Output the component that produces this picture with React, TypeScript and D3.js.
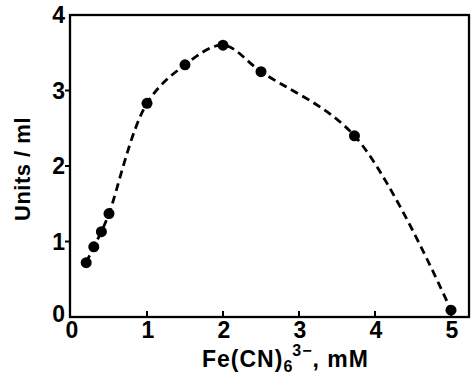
import { useEffect, useRef } from "react";
import * as d3 from "d3";

// Fe(CN)6 3- concentration (mM) vs activity (units/ml)
const concMM = [0.2, 0.3, 0.4, 0.5, 1.0, 1.5, 2.0, 2.5, 3.73, 5.0];
const unitsPerMl = [0.72, 0.93, 1.13, 1.37, 2.83, 3.34, 3.6, 3.25, 2.4, 0.09];
const xTicks = [0, 1, 2, 3, 4, 5];
const yTicks = [0, 1, 2, 3, 4];

const W = 473;
const H = 376;

const App = () => {
  const svgRef = useRef<SVGSVGElement | null>(null);

  useEffect(() => {
    const svg = d3.select(svgRef.current);
    svg.selectAll("*").remove();

    const font = "'Liberation Sans', Arial, sans-serif";
    const left = 70, right = 469, top = 15, bottom = 317;

    // x: 0 sits a bit right of the frame
    const x = d3.scaleLinear().domain([0, 5]).range([71, 451]);
    const y = d3.scaleLinear().domain([0, 4]).range([bottom, top]);

    const pts = concMM.map((c, i) => [c, unitsPerMl[i]] as [number, number]);

    // dashed fit curve
    const line = d3.line<[number, number]>()
      .x(d => x(d[0]))
      .y(d => y(d[1]))
      .curve(d3.curveCatmullRom.alpha(0.5));

    svg.append("path")
      .attr("d", line(pts))
      .attr("fill", "none")
      .attr("stroke", "#000")
      .attr("stroke-width", 2.8)
      .attr("stroke-dasharray", "8,5");

    // frame
    svg.append("rect")
      .attr("x", left)
      .attr("y", top)
      .attr("width", right - left)
      .attr("height", bottom - top)
      .attr("fill", "none")
      .attr("stroke", "#000")
      .attr("stroke-width", 2.3);

    // x ticks point inward
    svg.selectAll(".xt")
      .data(xTicks.filter(t => t > 0))
      .enter()
      .append("line")
      .attr("x1", d => x(d))
      .attr("x2", d => x(d))
      .attr("y1", bottom)
      .attr("y2", bottom - 6)
      .attr("stroke", "#000")
      .attr("stroke-width", 2);

    svg.selectAll(".xl")
      .data(xTicks)
      .enter()
      .append("text")
      .attr("x", d => x(d) + 1)
      .attr("y", 338)
      .attr("text-anchor", "middle")
      .attr("font-family", font)
      .attr("font-weight", "bold")
      .attr("font-size", 23)
      .text(d => d);

    // y ticks point outward
    svg.selectAll(".yt")
      .data(yTicks.filter(t => t > 0 && t < 4))
      .enter()
      .append("line")
      .attr("x1", left)
      .attr("x2", left - 5)
      .attr("y1", d => y(d))
      .attr("y2", d => y(d))
      .attr("stroke", "#000")
      .attr("stroke-width", 2);

    svg.selectAll(".yl")
      .data(yTicks)
      .enter()
      .append("text")
      .attr("x", 65)
      .attr("y", d => y(d) + 8 - (d === 0 ? 3 : 0))
      .attr("text-anchor", "end")
      .attr("font-family", font)
      .attr("font-weight", "bold")
      .attr("font-size", 23)
      .text(d => d);

    // points
    svg.selectAll(".pt")
      .data(pts)
      .enter()
      .append("circle")
      .attr("cx", d => x(d[0]))
      .attr("cy", d => y(d[1]))
      .attr("r", 5.5)
      .attr("fill", "#000");

    // axis titles
    const xt = svg.append("text")
      .attr("x", 202)
      .attr("y", 367)
      .attr("font-family", font)
      .attr("font-weight", "bold")
      .attr("letter-spacing", 1)
      .attr("font-size", 23);
    xt.append("tspan").text("Fe(CN)");
    xt.append("tspan").attr("dy", 5).attr("font-size", 16).text("6");
    xt.append("tspan").attr("dy", -16).attr("dx", -1).attr("font-size", 16).text("3−");
    xt.append("tspan").attr("dy", 11).text(", mM");

    svg.append("text")
      .attr("transform", "translate(30,169) rotate(-90)")
      .attr("text-anchor", "middle")
      .attr("font-family", font)
      .attr("font-weight", "bold")
      .attr("letter-spacing", 0.5)
      .attr("font-size", 22)
      .text("Units / ml");
  }, []);

  return (
    <div style={{ position: "fixed", left: 0, top: 0, width: W, height: H, background: "#fff" }}>
      <svg ref={svgRef} width={W} height={H}></svg>
    </div>
  );
};

export default App;
